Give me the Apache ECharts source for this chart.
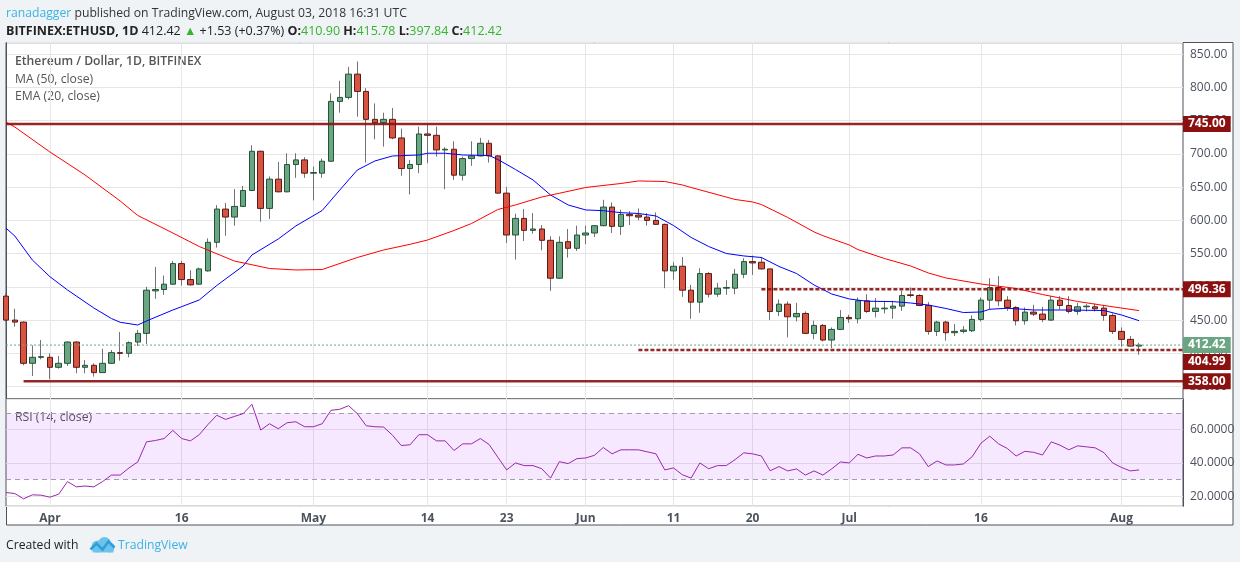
<!DOCTYPE html>
<html>
<head>
<meta charset="utf-8">
<title>Ethereum / Dollar, 1D, BITFINEX</title>
<script src="https://cdn.jsdelivr.net/npm/echarts@6/dist/echarts.min.js"></script>
<style>
  html, body { margin: 0; padding: 0; background: #f0f3f5; }
  #chart { width: 1240px; height: 562px; }
</style>
</head>
<body>
<div id="chart"></div>
<script>
// axis: one category per day, Mar 27 (cut at the left edge) to Aug 8 (empty right margin)
var firstDate = '2018-03-27';
var dayCount = 135;
var firstTrade = '2018-03-27';

// daily candles Mar 27 .. Aug 3
var opens = [486, 450, 447, 385, 394,
  394, 379, 385, 417, 379, 382, 371, 385, 401, 400,
  417, 430, 494, 496, 504, 535, 511, 504, 524, 567,
  617, 605, 621, 645, 704, 618, 662, 643, 684, 691,
  671, 671, 689, 779, 785, 820, 794, 752, 747, 752,
  724, 678, 684, 730, 728, 706, 707, 668, 693, 697,
  716, 697, 641, 578, 603, 585, 587, 570, 513, 568, 558,
  578, 581, 592, 620, 591, 609, 608, 605, 600, 594,
  524, 531, 495, 477, 520, 489, 498, 498, 519, 538,
  537, 527, 463, 474, 455, 460, 430, 442, 420, 436,
  454, 452, 479, 463, 467, 468, 471, 488, 487, 472,
  433, 447, 431, 433, 434, 451, 480, 499, 480, 469,
  449, 462, 459, 450, 480, 472, 463, 470, 470, 468, 457,
  433, 421, 410.90];
var closes = [450, 447, 385, 394, 395,
  379, 385, 417, 379, 382, 371, 385, 401, 400, 416,
  430, 495, 496, 504, 535, 511, 503, 527, 567, 617,
  605, 621, 645, 704, 618, 662, 643, 684, 691, 671,
  672, 689, 779, 785, 820, 794, 752, 747, 752, 724,
  678, 684, 730, 728, 706, 707, 668, 693, 697, 716,
  697, 641, 578, 603, 585, 587, 570, 513, 567, 558, 578,
  581, 592, 620, 591, 609, 607, 605, 600, 594, 524,
  531, 495, 477, 520, 489, 498, 499, 519, 538, 536,
  527, 463, 474, 455, 460, 430, 442, 420, 436, 454,
  452, 479, 463, 468, 468, 471, 487, 487, 472, 433,
  447, 431, 433, 435, 451, 480, 499, 479, 469, 449,
  462, 459, 451, 480, 472, 463, 470, 471, 467, 457, 433,
  421, 410.89, 412.42];
var lows = [448, 440, 382, 366, 391,
  361, 377, 381, 370, 370, 365, 371, 384, 389, 394,
  411, 414, 482, 488, 503, 502, 502, 503, 523, 559,
  577, 592, 620, 644, 598, 602, 642, 642, 664, 664,
  630, 664, 688, 762, 782, 756, 687, 722, 711, 722,
  667, 639, 671, 686, 696, 647, 661, 660, 682, 696,
  687, 640, 566, 541, 569, 580, 555, 494, 512, 544, 554,
  564, 575, 591, 581, 578, 593, 600, 592, 593, 498,
  511, 485, 452, 461, 484, 485, 488, 489, 513, 518,
  526, 450, 456, 424, 448, 429, 421, 418, 408, 435,
  446, 445, 461, 454, 460, 452, 464, 484, 471, 428,
  426, 419, 426, 430, 432, 448, 466, 471, 464, 442,
  443, 456, 447, 449, 466, 460, 458, 463, 463, 449, 429,
  410, 410, 397.84];
var highs = [490, 467, 448, 412, 420,
  400, 396, 418, 418, 390, 385, 407, 405, 432, 418,
  435, 500, 530, 517, 539, 539, 525, 529, 573, 623,
  626, 647, 652, 713, 705, 666, 688, 701, 701, 695,
  681, 693, 791, 810, 831, 839, 799, 776, 762, 769,
  738, 691, 741, 744, 741, 710, 719, 696, 719, 724,
  721, 698, 650, 610, 617, 611, 593, 576, 576, 587, 592,
  592, 593, 631, 627, 616, 614, 618, 611, 612, 595,
  537, 545, 503, 528, 522, 506, 510, 527, 543, 547,
  545, 527, 481, 478, 476, 463, 449, 444, 439, 465,
  458, 484, 489, 483, 479, 479, 494, 499, 489, 477,
  449, 449, 444, 441, 457, 484, 513, 516, 486, 471,
  469, 473, 470, 486, 486, 486, 476, 474, 475, 473, 460,
  439, 426, 415.78];

// RSI(14), one value per candle, Mar 27 .. Aug 3
var rsi = [22.2, 21.6, 18.4, 20.8, 20.6,
  19.4, 21.2, 28.8, 25.6, 26.1, 25.6, 28.8, 32.7, 32.7, 37,
  40.6, 52.7, 53.5, 54.7, 59.6, 54.7, 53.3, 57, 63.2, 68.7,
  66.2, 68, 69.7, 75.3, 59.8, 63.6, 60.6, 64.2, 64.8, 61.8,
  61.8, 63.6, 71.7, 72.3, 74.5, 69.7, 62.4, 61.8, 61.6, 56.7,
  50.5, 50.9, 57, 57, 53.3, 53.3, 47.5, 51.5, 51.5, 54.7,
  51.1, 43.4, 35.8, 40, 38.4, 38.4, 36.5, 30.9, 40.8, 39.6, 42.6,
  43, 44.6, 49.3, 45.5, 47.9, 47.9, 47.9, 46.7, 45.5, 35.8,
  37, 32.9, 30.9, 40, 36.5, 38.4, 38.4, 42, 46.1, 45.5,
  44.2, 35.3, 37.8, 35.2, 36.4, 32.7, 35.2, 32.7, 36.4, 40.6,
  40, 45.2, 43, 44.2, 44.2, 44.8, 49.1, 49.1, 45.5, 37.8,
  41.2, 38.8, 38.8, 39.4, 43.8, 51.9, 56.1, 51.5, 48.7, 44.2,
  47, 46.4, 44.8, 52.7, 50.7, 47.9, 50.3, 49.7, 49.1, 46.2, 40,
  37.3, 35.2, 35.8];

// EMA(20) and MA(50) read at points along the curves
var emaPoints = [['2018-03-27', 588.3], ['2018-03-28', 576.5], ['2018-03-30', 540.4], ['2018-04-01', 515.3],
  ['2018-04-03', 495.3], ['2018-04-06', 468.2], ['2018-04-08', 452.4], ['2018-04-09', 446.7],
  ['2018-04-11', 442.6], ['2018-04-12', 448.7], ['2018-04-15', 465.2], ['2018-04-16', 470.2],
  ['2018-04-18', 480.3], ['2018-04-20', 502.1], ['2018-04-23', 531.4], ['2018-04-24', 548],
  ['2018-04-27', 572], ['2018-04-29', 591.6], ['2018-05-02', 614.9], ['2018-05-04', 645.7],
  ['2018-05-06', 675.8], ['2018-05-08', 689.4], ['2018-05-10', 696.9], ['2018-05-13', 698.4],
  ['2018-05-14', 701], ['2018-05-16', 701], ['2018-05-18', 698.4], ['2018-05-21', 697.6],
  ['2018-05-22', 691.6], ['2018-05-24', 676.6], ['2018-05-26', 660.8], ['2018-05-28', 638.2],
  ['2018-05-30', 623.2], ['2018-06-01', 615.7], ['2018-06-03', 614.6], ['2018-06-05', 611.6],
  ['2018-06-07', 610.4], ['2018-06-09', 606.6], ['2018-06-11', 592.3], ['2018-06-13', 574.3],
  ['2018-06-15', 560.7], ['2018-06-17', 550.2], ['2018-06-19', 546.5], ['2018-06-21', 544.2],
  ['2018-06-23', 530.7], ['2018-06-25', 520.1], ['2018-06-27', 502.8], ['2018-06-29', 489.3],
  ['2018-07-01', 481.8], ['2018-07-03', 478.4], ['2018-07-06', 477.8], ['2018-07-08', 475.7],
  ['2018-07-10', 472.7], ['2018-07-12', 467.5], ['2018-07-14', 461.4], ['2018-07-16', 462.2],
  ['2018-07-17', 466.3], ['2018-07-19', 467.8], ['2018-07-22', 465.2], ['2018-07-26', 465.2],
  ['2018-07-30', 464.4], ['2018-08-01', 457.7], ['2018-08-03', 449.1]];
var maPoints = [['2018-03-27', 748], ['2018-03-28', 740.5], ['2018-04-01', 702.9], ['2018-04-05', 668.3],
  ['2018-04-09', 629.2], ['2018-04-11', 607.4], ['2018-04-15', 581], ['2018-04-18', 560.7],
  ['2018-04-22', 538.9], ['2018-04-26', 527.6], ['2018-04-29', 525.4], ['2018-05-02', 526.1],
  ['2018-05-06', 544.2], ['2018-05-09', 555.5], ['2018-05-12', 564], ['2018-05-14', 570.5],
  ['2018-05-17', 584.8], ['2018-05-19', 595.3], ['2018-05-22', 616.4], ['2018-05-24', 623.2],
  ['2018-05-27', 635.2], ['2018-05-29', 640.8], ['2018-06-01', 649.5], ['2018-06-05', 655.5],
  ['2018-06-07', 659.3], ['2018-06-10', 658.5], ['2018-06-12', 653.3], ['2018-06-13', 649.5],
  ['2018-06-18', 631.5], ['2018-06-20', 627.7], ['2018-06-21', 623.9], ['2018-06-24', 604.4],
  ['2018-06-27', 582.6], ['2018-06-28', 577], ['2018-07-01', 563], ['2018-07-02', 556],
  ['2018-07-05', 542.7], ['2018-07-08', 531.4], ['2018-07-10', 520.9], ['2018-07-12', 513.4],
  ['2018-07-16', 504.3], ['2018-07-20', 497.6], ['2018-07-23', 488.5], ['2018-07-27', 478],
  ['2018-07-30', 472], ['2018-08-03', 464.2]];

// drawn price levels and the day each one starts
var levelPrices = [745, 496.36, 404.99, 358];
var levelFrom = ['2018-03-27', '2018-06-21', '2018-06-07', '2018-03-29'];

// x axis tick labels
var tickLabels = [['2018-04-01', 'Apr'], ['2018-04-16', '16'], ['2018-05-01', 'May'], ['2018-05-14', '14'],
  ['2018-05-23', '23'], ['2018-06-01', 'Jun'], ['2018-06-11', '11'], ['2018-06-20', '20'],
  ['2018-07-01', 'Jul'], ['2018-07-16', '16'], ['2018-08-01', 'Aug']];

function buildDates(start, n) {
  var out = [];
  var t = Date.parse(start + 'T00:00:00Z');
  for (var i = 0; i < n; i++) {
    out.push(new Date(t + i * 86400000).toISOString().slice(0, 10));
  }
  return out;
}

var dates = buildDates(firstDate, dayCount);
var lead = dates.indexOf(firstTrade);
var tickMap = {};
tickLabels.forEach(function (t) { tickMap[t[0]] = t[1]; });

function isTick(index, value) { return tickMap.hasOwnProperty(value); }

function candleRows(bodyOnly) {
  return dates.map(function (d, i) {
    var k = i - lead;
    if (k < 0 || k >= opens.length) return ['-', '-', '-', '-'];
    var o = opens[k], c = closes[k];
    if (bodyOnly) return [o, c, Math.min(o, c), Math.max(o, c)];
    return [o, c, lows[k], highs[k]];
  });
}

function alongDates(values) {
  return dates.map(function (d, i) {
    var k = i - lead;
    return (k < 0 || k >= values.length) ? null : values[k];
  });
}

function sparse(points) {
  var arr = dates.map(function () { return null; });
  points.forEach(function (p) { arr[dates.indexOf(p[0])] = p[1]; });
  return arr;
}

var red = '#8b1010';
var green = '#6ba583';
var font = 'Open Sans';
var lastPrice = closes[closes.length - 1];

// level line look: solid / dashed, label shift where TradingView pushed it down
var levelStyle = [
  { type: 'solid', width: 2.5, offset: [0, 0] },
  { type: [4, 2], width: 2.5, offset: [0, 0] },
  { type: [4, 2], width: 2.5, offset: [0, 12] },
  { type: 'solid', width: 2.5, offset: [0, 0] }
];

function priceTag(text, bg, offset) {
  return {
    show: true,
    formatter: function () { return text; },
    backgroundColor: bg,
    color: '#fff',
    fontFamily: font,
    fontSize: 12,
    fontWeight: 'bold',
    lineHeight: 13,
    padding: [2, 5, 1, 5],
    distance: 0,
    offset: offset
  };
}

var levelSeries = levelPrices.map(function (p, i) {
  var st = levelStyle[i];
  return {
    type: 'line',
    xAxisIndex: 2,
    yAxisIndex: 0,
    data: [[dates.indexOf(levelFrom[i]), p], [dayCount - 1, p]],
    symbol: 'none',
    silent: true,
    z: 6,
    lineStyle: { color: red, width: st.width, type: st.type, opacity: 0.9 },
    endLabel: priceTag(p.toFixed(2), red, st.offset)
  };
});

var gridLine = { lineStyle: { color: '#e6e6e6', width: 1 } };

var chart = echarts.init(document.getElementById('chart'), null, { renderer: 'canvas' });

chart.setOption({
  animation: false,
  backgroundColor: '#f0f3f5',
  textStyle: { fontFamily: font },
  grid: [
    { left: 6, top: 42.7, width: 1177, height: 356.3, show: true, borderColor: '#50535e', borderWidth: 1, backgroundColor: '#fff' },
    { left: 6, top: 399, width: 1177, height: 107.3, show: true, borderColor: '#50535e', borderWidth: 1, backgroundColor: '#fff' }
  ],
  xAxis: [
    {
      type: 'category', gridIndex: 0, data: dates, boundaryGap: false,
      axisLine: { show: false }, axisTick: { show: false }, axisLabel: { show: false },
      splitLine: { show: true, interval: isTick, lineStyle: gridLine.lineStyle }
    },
    {
      type: 'category', gridIndex: 1, data: dates, boundaryGap: false,
      axisLine: { show: false }, axisTick: { show: false },
      axisLabel: {
        interval: isTick, formatter: function (v) { return tickMap[v]; },
        color: '#4c525e', fontSize: 12, fontWeight: 'bold', margin: 6
      },
      splitLine: { show: true, interval: isTick, lineStyle: gridLine.lineStyle }
    },
    { type: 'value', gridIndex: 0, min: 0, max: dayCount - 1, show: false }
  ],
  yAxis: [
    {
      type: 'value', gridIndex: 0, position: 'right', min: 331.3, max: 867.3,
      splitNumber: 10, minInterval: 50, maxInterval: 50, scale: true,
      axisLine: { show: true, lineStyle: { color: '#50535e' } }, axisTick: { show: false },
      axisLabel: {
        color: '#4c525e', fontSize: 12, margin: 7, showMinLabel: false, showMaxLabel: false,
        formatter: function (v) { return v.toFixed(2); }
      },
      splitLine: gridLine
    },
    {
      type: 'value', gridIndex: 1, position: 'right', min: 13.9, max: 78.5,
      splitNumber: 3, minInterval: 20, maxInterval: 20, scale: true,
      axisLine: { show: true, lineStyle: { color: '#50535e' } }, axisTick: { show: false },
      axisLabel: {
        color: '#4c525e', fontSize: 12, margin: 7, showMinLabel: false, showMaxLabel: false,
        formatter: function (v) { return v.toFixed(4); }
      },
      splitLine: gridLine
    }
  ],
  series: [
    {
      name: 'wicks', type: 'candlestick', xAxisIndex: 0, yAxisIndex: 0,
      data: candleRows(false), barWidth: 1, z: 2, silent: true,
      itemStyle: { color: '#737375', color0: '#737375', borderColor: '#737375', borderColor0: '#737375', borderWidth: 1 }
    },
    {
      name: 'ETHUSD', type: 'candlestick', xAxisIndex: 0, yAxisIndex: 0,
      data: candleRows(true), barWidth: 6, z: 3, silent: true,
      itemStyle: { color: green, color0: '#d75442', borderColor: '#225437', borderColor0: '#5b1a13', borderWidth: 1 }
    },
    {
      name: 'EMA (20, close)', type: 'line', xAxisIndex: 0, yAxisIndex: 0,
      data: sparse(emaPoints), connectNulls: true, symbol: 'none', z: 4, silent: true,
      lineStyle: { color: '#0000ff', width: 1 }
    },
    {
      name: 'MA (50, close)', type: 'line', xAxisIndex: 0, yAxisIndex: 0,
      data: sparse(maPoints), connectNulls: true, symbol: 'none', z: 4, silent: true,
      lineStyle: { color: '#ff0000', width: 1 }
    },
    {
      name: 'last', type: 'line', xAxisIndex: 2, yAxisIndex: 0,
      data: [[0, lastPrice], [dayCount - 1, lastPrice]], symbol: 'none', z: 5, silent: true,
      lineStyle: { color: green, width: 1, type: [2, 2] },
      endLabel: priceTag(lastPrice.toFixed(2), green, [0, 0])
    },
    {
      name: 'RSI (14, close)', type: 'line', xAxisIndex: 1, yAxisIndex: 1,
      data: alongDates(rsi), symbol: 'none', z: 4, silent: true,
      lineStyle: { color: '#9c27b0', width: 1 },
      markArea: {
        silent: true, z: 1,
        itemStyle: { color: 'rgba(149, 0, 255, 0.09)' },
        data: [[{ yAxis: 30 }, { yAxis: 70 }]]
      },
      markLine: {
        silent: true, symbol: 'none', z: 2, label: { show: false },
        lineStyle: { color: '#a29fa8', width: 1, type: [5, 4] },
        data: [{ yAxis: 70 }, { yAxis: 30 }]
      }
    }
  ].concat(levelSeries),
  graphic: [
    {
      type: 'rect', z: -10, silent: true,
      shape: { x: 6.5, y: 42.5, width: 1226.5, height: 482.5 },
      style: { fill: '#fff', stroke: '#50535e', lineWidth: 1 }
    },
    {
      type: 'text', left: 6, top: 8, silent: true,
      style: {
        text: '{u|ranadagger} published on TradingView.com, August 03, 2018 16:31 UTC',
        fill: '#333', font: '12.2px "Open Sans"',
        rich: { u: { fill: '#3bb3e4', font: '12.2px "Open Sans"' } }
      }
    },
    {
      type: 'text', left: 6, top: 25, silent: true,
      style: {
        text: '{b|BITFINEX:ETHUSD, 1D} 412.42 {g|▲} +1.53 (+0.37%) {b|O:}{g|410.90} {b|H:}{g|415.78} {b|L:}{g|397.84} {b|C:}{g|412.42}',
        fill: '#222', font: '12.5px "Open Sans"',
        rich: {
          b: { fill: '#222', font: 'bold 12.5px "Open Sans"' },
          g: { fill: '#37b32f', font: '12.5px "Open Sans"' }
        }
      }
    },
    {
      type: 'text', left: 15, top: 56, silent: true,
      style: { text: 'Ethereum / Dollar, 1D, BITFINEX', fill: '#555', font: '600 12.2px "Open Sans"' }
    },
    {
      type: 'text', left: 15, top: 74, silent: true,
      style: { text: 'MA (50, close)', fill: '#555', font: '12.2px "Open Sans"' }
    },
    {
      type: 'text', left: 15, top: 91, silent: true,
      style: { text: 'EMA (20, close)', fill: '#555', font: '12.2px "Open Sans"' }
    },
    {
      type: 'text', left: 15, top: 412, silent: true,
      style: { text: 'RSI (14, close)', fill: '#555', font: '12.2px "Open Sans"' }
    },
    {
      type: 'text', left: 6, top: 540, silent: true,
      style: { text: 'Created with', fill: '#222', font: '12.2px "Open Sans"' }
    },
    {
      type: 'group', left: 88, top: 537, silent: true,
      children: [
        { type: 'circle', shape: { cx: 7, cy: 9, r: 6 }, style: { fill: '#6cc4ec' } },
        { type: 'circle', shape: { cx: 14, cy: 6, r: 6.5 }, style: { fill: '#6cc4ec' } },
        { type: 'circle', shape: { cx: 19, cy: 10, r: 5 }, style: { fill: '#6cc4ec' } },
        { type: 'rect', shape: { x: 2, y: 9, width: 21, height: 6 }, style: { fill: '#6cc4ec' } },
        {
          type: 'polyline',
          shape: { points: [[0, 12], [6, 6], [12, 12], [18, 4], [24, 10]] },
          style: { stroke: '#2e9fd8', lineWidth: 2.5, fill: null }
        }
      ]
    },
    {
      type: 'text', left: 118, top: 540, silent: true,
      style: { text: 'TradingView', fill: '#3bb3e4', font: '12.2px "Open Sans"' }
    }
  ]
});
</script>
</body>
</html>
